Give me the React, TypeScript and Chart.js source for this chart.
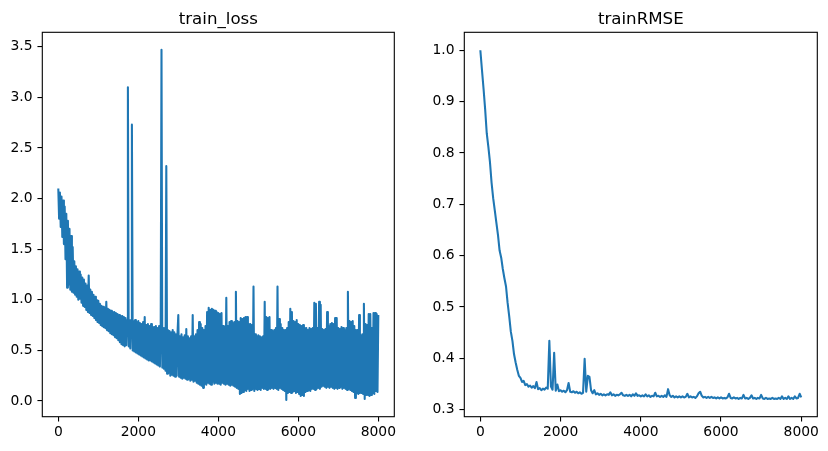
import React, { useEffect, useRef } from "react";
import { Chart, registerables } from "chart.js";

Chart.register(...registerables);

// sampling interval (training steps) of each series
const LOSS_STEP = 20;
const RMSE_STEP = 40;

// train_loss, one value every 20 steps from 0 to 8000 (10 values = 200 steps per row)
const lossValues = [
  2.10, 1.80, 2.06, 1.72, 2.02, 1.62, 1.98, 1.55, 1.92, 1.40,
  1.85, 1.12, 1.78, 1.15, 1.70, 1.10, 1.63, 1.08, 1.52, 1.07,
  1.38, 1.05, 1.33, 1.03, 1.30, 1.00, 1.28, 1.01, 1.25, 0.97,
  1.22, 0.94, 1.20, 0.93, 1.16, 0.90, 1.14, 0.88, 1.24, 0.87,
  1.10, 0.85, 1.08, 0.84, 1.05, 0.82, 1.03, 0.80, 1.00, 0.78,
  0.99, 0.77, 0.96, 0.75, 0.94, 0.74, 0.93, 0.73, 0.92, 0.72,
  0.98, 0.70, 0.91, 0.69, 0.90, 0.67, 0.89, 0.66, 0.88, 0.65,
  0.88, 0.63, 0.87, 0.62, 0.86, 0.60, 0.85, 0.58, 0.84, 0.56,
  0.84, 0.55, 0.83, 0.54, 0.82, 0.55, 0.80, 3.10, 0.54, 0.80,
  0.52, 0.80, 2.73, 0.50, 0.79, 0.49, 0.80, 0.48, 0.78, 0.47,
  0.79, 0.46, 0.77, 0.45, 0.76, 0.44, 0.78, 0.43, 0.83, 0.42,
  0.75, 0.41, 0.76, 0.40, 0.74, 0.40, 0.76, 0.39, 0.73, 0.38,
  0.73, 0.37, 0.74, 0.36, 0.72, 0.35, 0.74, 0.34, 0.72, 3.47,
  0.33, 0.72, 0.32, 0.70, 0.30, 2.32, 0.27, 0.70, 0.28, 0.69,
  0.25, 0.68, 0.26, 0.70, 0.25, 0.68, 0.24, 0.66, 0.25, 0.67,
  0.85, 0.24, 0.64, 0.23, 0.66, 0.22, 0.63, 0.23, 0.65, 0.22,
  0.71, 0.21, 0.64, 0.22, 0.62, 0.20, 0.64, 0.21, 0.85, 0.19,
  0.64, 0.20, 0.66, 0.18, 0.70, 0.17, 0.78, 0.16, 0.76, 0.15,
  0.72, 0.13, 0.70, 0.17, 0.74, 0.16, 0.88, 0.18, 0.92, 0.17,
  0.90, 0.16, 0.91, 0.19, 0.90, 0.17, 0.89, 0.18, 0.88, 0.17,
  0.87, 0.17, 0.86, 0.16, 0.87, 0.18, 0.74, 0.17, 0.73, 0.16,
  1.02, 0.17, 0.74, 0.16, 0.78, 0.15, 0.79, 0.16, 0.77, 0.15,
  0.78, 0.14, 1.08, 0.13, 0.79, 0.12, 0.78, 0.07, 0.82, 0.08,
  0.81, 0.09, 0.82, 0.11, 0.83, 0.10, 0.83, 0.12, 0.76, 0.10,
  0.76, 0.11, 0.75, 0.12, 1.13, 0.10, 0.66, 0.12, 0.64, 0.11,
  0.65, 0.12, 0.64, 0.11, 0.63, 0.13, 0.64, 0.12, 0.98, 0.12,
  0.83, 0.11, 0.82, 0.12, 0.83, 0.12, 0.70, 0.13, 0.69, 0.12,
  0.70, 0.13, 0.72, 0.12, 1.13, 0.11, 0.81, 0.13, 0.76, 0.12,
  0.72, 0.11, 0.70, 0.10, 0.70, 0.01, 0.72, 0.08, 0.78, 0.09,
  0.91, 0.08, 0.88, 0.09, 0.79, 0.10, 0.78, 0.08, 0.80, 0.09,
  0.76, 0.07, 0.75, 0.05, 0.74, 0.06, 0.75, 0.05, 0.72, 0.09,
  0.72, 0.10, 0.70, 0.11, 0.72, 0.10, 0.71, 0.12, 0.72, 0.12,
  0.97, 0.11, 0.96, 0.12, 0.72, 0.13, 0.98, 0.12, 0.95, 0.14,
  0.71, 0.15, 0.70, 0.14, 0.71, 0.13, 0.88, 0.14, 0.74, 0.13,
  0.76, 0.14, 0.77, 0.13, 0.76, 0.12, 0.82, 0.13, 0.82, 0.12,
  0.72, 0.13, 0.71, 0.14, 0.73, 0.12, 0.72, 0.13, 0.70, 0.12,
  0.72, 0.11, 1.08, 0.12, 0.79, 0.11, 0.78, 0.10, 0.79, 0.09,
  0.74, 0.03, 0.70, 0.08, 0.70, 0.07, 0.85, 0.08, 0.65, 0.08,
  0.66, 0.07, 0.96, 0.02, 0.76, 0.06, 0.75, 0.06, 0.86, 0.05,
  0.86, 0.06, 0.72, 0.08, 0.87, 0.07, 0.87, 0.10, 0.86, 0.09,
  0.85,
];

// trainRMSE, one value every 40 steps from 0 to 8000
const rmseValues = [
  1.000, 0.962, 0.925, 0.885, 0.838, 0.812, 0.782, 0.742, 0.712, 0.688,
  0.664, 0.640, 0.610, 0.596, 0.574, 0.556, 0.540, 0.508, 0.482, 0.452,
  0.434, 0.408, 0.392, 0.378, 0.366, 0.362, 0.354, 0.356, 0.348, 0.350,
  0.345, 0.347, 0.343, 0.346, 0.342, 0.354, 0.340, 0.342, 0.338, 0.341,
  0.339, 0.343, 0.341, 0.434, 0.345, 0.339, 0.411, 0.337, 0.349, 0.336,
  0.338, 0.335, 0.337, 0.334, 0.338, 0.352, 0.335, 0.334, 0.336, 0.333,
  0.335, 0.332, 0.334, 0.331, 0.333, 0.399, 0.335, 0.366, 0.364, 0.338,
  0.332, 0.338, 0.330, 0.332, 0.329, 0.331, 0.328, 0.330, 0.328, 0.330,
  0.329, 0.334, 0.328, 0.330, 0.327, 0.329, 0.328, 0.330, 0.333, 0.328,
  0.327, 0.329, 0.327, 0.329, 0.326, 0.330, 0.327, 0.332, 0.327, 0.328,
  0.326, 0.328, 0.326, 0.330, 0.326, 0.328, 0.325, 0.327, 0.326, 0.333,
  0.326, 0.327, 0.325, 0.327, 0.325, 0.328, 0.325, 0.340, 0.328, 0.325,
  0.327, 0.324, 0.326, 0.324, 0.326, 0.324, 0.326, 0.324, 0.325, 0.331,
  0.324, 0.326, 0.324, 0.325, 0.323, 0.326, 0.332, 0.335, 0.327, 0.324,
  0.325, 0.323, 0.325, 0.323, 0.325, 0.323, 0.324, 0.322, 0.324, 0.322,
  0.324, 0.322, 0.323, 0.322, 0.324, 0.331, 0.323, 0.322, 0.324, 0.322,
  0.323, 0.321, 0.323, 0.322, 0.329, 0.322, 0.323, 0.321, 0.323, 0.328,
  0.322, 0.323, 0.321, 0.323, 0.322, 0.329, 0.322, 0.321, 0.323, 0.321,
  0.322, 0.321, 0.323, 0.321, 0.322, 0.321, 0.323, 0.321, 0.326, 0.321,
  0.323, 0.321, 0.326, 0.321, 0.323, 0.321, 0.326, 0.322, 0.323, 0.331,
  0.324,
];

const xTicks = [0, 2000, 4000, 6000, 8000];
const lossYTicks = [0.0, 0.5, 1.0, 1.5, 2.0, 2.5, 3.0, 3.5];
const rmseYTicks = [0.3, 0.4, 0.5, 0.6, 0.7, 0.8, 0.9, 1.0];

const W = 414;
const H = 451;
const FONT = "'DejaVu Sans', sans-serif";
const BLUE = "#1f77b4";

type PanelProps = {
  title: string;
  values: number[];
  step: number;
  yTicks: number[];
  yMin: number;
  yMax: number;
  areaLeft: number;
  areaRight: number;
  offsetX: number;
};

const AREA_TOP = 32.3;
const AREA_BOTTOM = 416.7;
const X_AXIS_H = 30;

function Panel(props: PanelProps) {
  const ref = useRef<HTMLCanvasElement | null>(null);

  useEffect(() => {
    if (!ref.current) return;
    const { title, values, step, yTicks, yMin, yMax, areaLeft, areaRight } = props;

    const framePlugin = {
      id: "frameAndTitle",
      afterDraw(chart: any) {
        const { ctx, chartArea } = chart;
        ctx.save();
        ctx.strokeStyle = "#000";
        ctx.lineWidth = 1.1;
        ctx.strokeRect(
          chartArea.left,
          chartArea.top,
          chartArea.right - chartArea.left,
          chartArea.bottom - chartArea.top
        );
        ctx.fillStyle = "#000";
        ctx.font = `16.67px ${FONT}`;
        ctx.textAlign = "center";
        ctx.textBaseline = "alphabetic";
        ctx.fillText(title, (chartArea.left + chartArea.right) / 2, 23.5);
        ctx.restore();
      },
    };

    const chart = new Chart(ref.current, {
      type: "line",
      data: {
        datasets: [
          {
            data: values.map((v, i) => ({ x: i * step, y: v })),
            borderColor: BLUE,
            backgroundColor: BLUE,
            borderWidth: 2.08,
            borderJoinStyle: "round",
            borderCapStyle: "butt",
            pointRadius: 0,
            tension: 0,
            fill: false,
          },
        ],
      },
      options: {
        animation: false,
        responsive: false,
        devicePixelRatio: 1,
        events: [],
        layout: {
          padding: {
            left: 0,
            right: W - areaRight,
            top: AREA_TOP,
            bottom: H - AREA_BOTTOM - X_AXIS_H,
          },
        },
        plugins: {
          legend: { display: false },
          tooltip: { enabled: false },
          title: { display: false },
        },
        scales: {
          x: {
            type: "linear",
            min: -400,
            max: 8400,
            afterBuildTicks: (s: any) => {
              s.ticks = xTicks.map((v) => ({ value: v }));
            },
            afterFit: (s: any) => {
              s.height = X_AXIS_H;
            },
            grid: {
              drawOnChartArea: false,
              drawTicks: true,
              tickLength: 4.86,
              color: "#000",
              lineWidth: 1.1,
            },
            border: { display: false },
            ticks: {
              autoSkip: false,
              maxRotation: 0,
              minRotation: 0,
              padding: 3,
              color: "#000",
              font: { family: FONT, size: 13.89 },
              callback: (v: any) => String(v),
            },
          },
          y: {
            type: "linear",
            min: yMin,
            max: yMax,
            afterBuildTicks: (s: any) => {
              s.ticks = yTicks.map((v) => ({ value: v }));
            },
            afterFit: (s: any) => {
              s.width = areaLeft;
            },
            grid: {
              drawOnChartArea: false,
              drawTicks: true,
              tickLength: 4.86,
              color: "#000",
              lineWidth: 1.1,
            },
            border: { display: false },
            ticks: {
              autoSkip: false,
              padding: 4.86,
              color: "#000",
              font: { family: FONT, size: 13.89 },
              callback: (v: any) => Number(v).toFixed(1),
            },
          },
        },
      },
      plugins: [framePlugin],
    } as any);

    return () => chart.destroy();
  }, []);

  return (
    <canvas
      ref={ref}
      width={W}
      height={H}
      style={{ position: "absolute", left: props.offsetX, top: 0, width: W, height: H, display: "block" }}
    />
  );
}

export default function App() {
  return (
    <div style={{ position: "absolute", left: 0, top: 0, width: 828, height: 451, background: "#fff" }}>
      <Panel
        title="train_loss"
        values={lossValues}
        step={LOSS_STEP}
        yTicks={lossYTicks}
        yMin={-0.155}
        yMax={3.642}
        areaLeft={42.3}
        areaRight={394.3}
        offsetX={0}
      />
      <Panel
        title="trainRMSE"
        values={rmseValues}
        step={RMSE_STEP}
        yTicks={rmseYTicks}
        yMin={0.2864}
        yMax={1.035}
        areaLeft={50.3}
        areaRight={403.3}
        offsetX={414}
      />
    </div>
  );
}
